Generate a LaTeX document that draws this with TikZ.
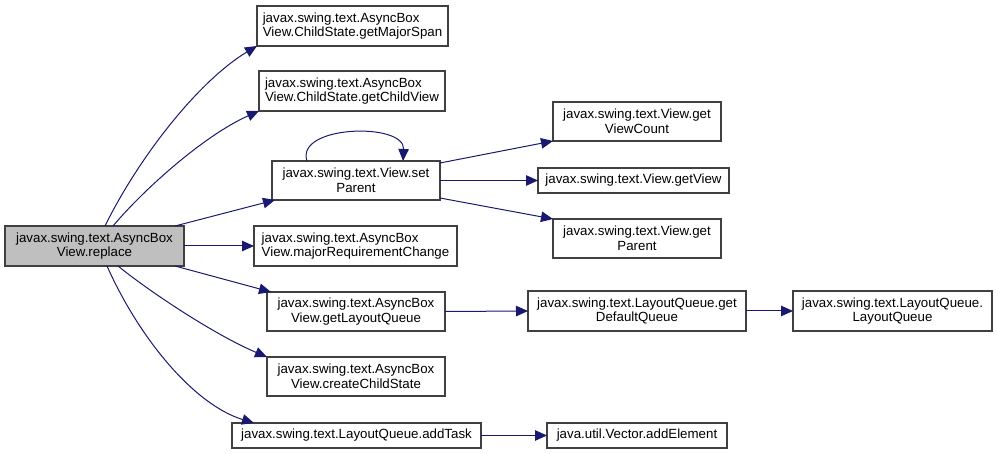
\documentclass[tikz,border=0pt]{standalone}
\usepackage{fontspec}
\setmainfont{Liberation Sans}
\usetikzlibrary{arrows.meta,calc}
\definecolor{edgeblue}{HTML}{191970}
\definecolor{boxline}{HTML}{404040}
\definecolor{mainfill}{HTML}{BFBFBF}
\begin{document}
\begin{tikzpicture}[x=1pt,y=-1pt,
  fn/.style={draw=boxline,line width=1.2pt,fill=white,inner sep=0pt,outer sep=0pt,
    font=\fontsize{13.3}{14.6}\selectfont,align=center},
  fnl/.style={fn,align=left},
  call/.style={draw=edgeblue,line width=1pt,-{Triangle[length=12pt,width=10.5pt]}}]
\useasboundingbox (0,0) rectangle (997,454);
% nodes
\node[fn,fill=mainfill,minimum width=179,minimum height=40] (replace) at (94.5,246) {javax.swing.text.AsyncBox\\View.replace};
\node[fnl,minimum width=191,minimum height=40] (msp) at (352.5,26) {javax.swing.text.AsyncBox\\View.ChildState.getMajorSpan};
\node[fnl,minimum width=186,minimum height=40] (gcv) at (352,91) {javax.swing.text.AsyncBox\\View.ChildState.getChildView};
\node[fn,minimum width=168,minimum height=39] (sp) at (356,180.5) {javax.swing.text.View.set\\Parent};
\node[fnl,minimum width=203,minimum height=40] (mrc) at (355.5,246) {javax.swing.text.AsyncBox\\View.majorRequirementChange};
\node[fn,minimum width=178,minimum height=39] (glq) at (356,311.5) {javax.swing.text.AsyncBox\\View.getLayoutQueue};
\node[fn,minimum width=178,minimum height=39] (ccs) at (356,376.5) {javax.swing.text.AsyncBox\\View.createChildState};
\node[fn,minimum width=249,minimum height=25] (at) at (356.5,435.5) {javax.swing.text.LayoutQueue.addTask};
\node[fn,minimum width=168,minimum height=39] (gvc) at (637,121.5) {javax.swing.text.View.get\\ViewCount};
\node[fn,minimum width=191,minimum height=25] (gv) at (633.5,180.5) {javax.swing.text.View.getView};
\node[fn,minimum width=168,minimum height=39] (gp) at (637,238.5) {javax.swing.text.View.get\\Parent};
\node[fn,minimum width=218,minimum height=40] (gdq) at (637,311) {javax.swing.text.LayoutQueue.get\\DefaultQueue};
\node[fn,minimum width=199,minimum height=40] (lq) at (892.5,311) {javax.swing.text.LayoutQueue.\\LayoutQueue};
\node[fn,minimum width=180,minimum height=25] (ae) at (637,435.5) {java.util.Vector.addElement};
% edges
\draw[call] ($(replace.north west)+(100,0)$) .. controls (140,155) and (200,80) .. (msp.south west);
\draw[call] ($(replace.north west)+(108,0)$) .. controls (145,188) and (205,135) .. (gcv.south west);
\draw[call] ($(replace.north east)+(-9,0)$) -- ($(sp.south west)+(3,0)$);
\draw[call] (replace.east) -- (mrc.west);
\draw[call] ($(replace.south east)+(-9,0)$) -- ($(glq.north west)+(4,0)$);
\draw[call] ($(replace.south west)+(113,0)$) .. controls (150,292) and (215,335) .. (ccs.north west);
\draw[call] ($(replace.south west)+(102,0)$) .. controls (140,340) and (195,405) .. ($(at.north west)+(22,0)$);
\draw[call] ($(sp.north west)+(35,0)$) .. controls (295,125) and (405,122) .. ($(sp.north west)+(131,0)$);
\draw[call] ($(sp.north east)+(0,2)$) -- (gvc.south west);
\draw[call] (sp.east) -- (gv.west);
\draw[call] ($(sp.south east)+(0,-2)$) -- (gp.north west);
\draw[call] (glq.east) -- (gdq.west);
\draw[call] (gdq.east) -- (lq.west);
\draw[call] (at.east) -- (ae.west);
\end{tikzpicture}
\end{document}
